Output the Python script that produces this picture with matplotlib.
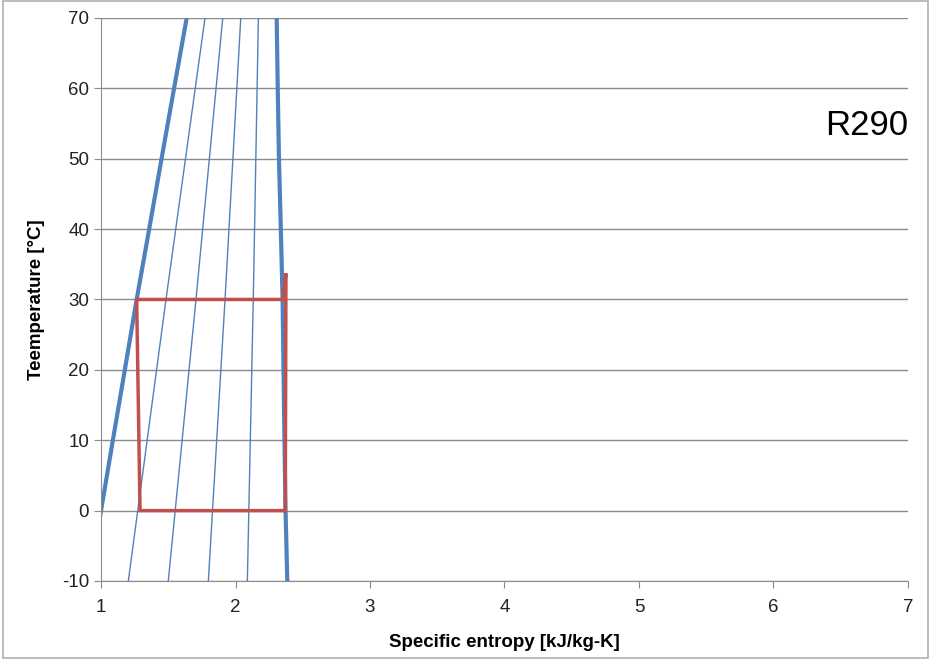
import matplotlib.pyplot as plt
from matplotlib.patches import Rectangle

# saturation dome
temp_sat = [-10, 0, 10, 20, 30, 40, 50, 60, 70]
s_liquid = [0.91, 1.0, 1.088, 1.177, 1.265, 1.358, 1.45, 1.543, 1.637]
s_vapor = [2.385, 2.372, 2.364, 2.357, 2.35, 2.337, 2.323, 2.314, 2.306]

# constant quality lines
temp_q = [-10, 30, 70]
s_q20 = [1.203, 1.483, 1.773]
s_q40 = [1.500, 1.706, 1.905]
s_q60 = [1.798, 1.922, 2.039]
s_q80 = [2.088, 2.132, 2.170]

# refrigeration cycle
s_cycle = [2.37, 2.375, 2.35, 1.265, 1.29, 2.37]
t_cycle = [0, 33.7, 30, 30, 0, 0]

blue = '#4f81bd'
red = '#c0504d'
grid = '#8c8c8c'


def main():
    plt.rcParams['font.family'] = ['Liberation Sans', 'DejaVu Sans']
    plt.rcParams['axes.unicode_minus'] = False
    fig = plt.figure(figsize=(9.32, 6.63), dpi=100)
    ax = fig.add_axes([0.1084, 0.1237, 0.8658, 0.8492])

    for s in (s_q20, s_q40, s_q60, s_q80):
        ax.plot(s, temp_q, color=blue, lw=1.0)
    ax.plot(s_liquid, temp_sat, color=blue, lw=3)
    ax.plot(s_vapor, temp_sat, color=blue, lw=3)
    ax.plot(s_cycle, t_cycle, color=red, lw=2.5, solid_joinstyle='miter')

    ax.set_xlim(1, 7)
    ax.set_ylim(-10, 70)
    ax.set_xticks(range(1, 8))
    ax.set_yticks(range(-10, 71, 10))
    ax.yaxis.grid(True, color=grid, lw=1)
    ax.set_axisbelow(True)
    for side in ('top', 'right'):
        ax.spines[side].set_visible(False)
    for side in ('left', 'bottom'):
        ax.spines[side].set_color(grid)
    ax.tick_params(colors=grid, labelcolor='#222222', labelsize=13.5,
                   length=5, direction='out')
    ax.tick_params(axis='x', pad=8)

    ax.set_xlabel('Specific entropy [kJ/kg-K]', fontsize=13.5,
                  fontweight='bold', labelpad=13)
    ax.set_ylabel('Teemperature [°C]', fontsize=13.5, fontweight='bold',
                  labelpad=12)
    ax.text(7, 53.4, 'R290', ha='right', va='baseline', fontsize=25)

    fig.patches.append(Rectangle((0.003, 0.008), 0.993, 0.99,
                                 transform=fig.transFigure, fill=False,
                                 edgecolor='#b0b0b0', lw=1.2))
    fig.savefig('out.png')


main()
